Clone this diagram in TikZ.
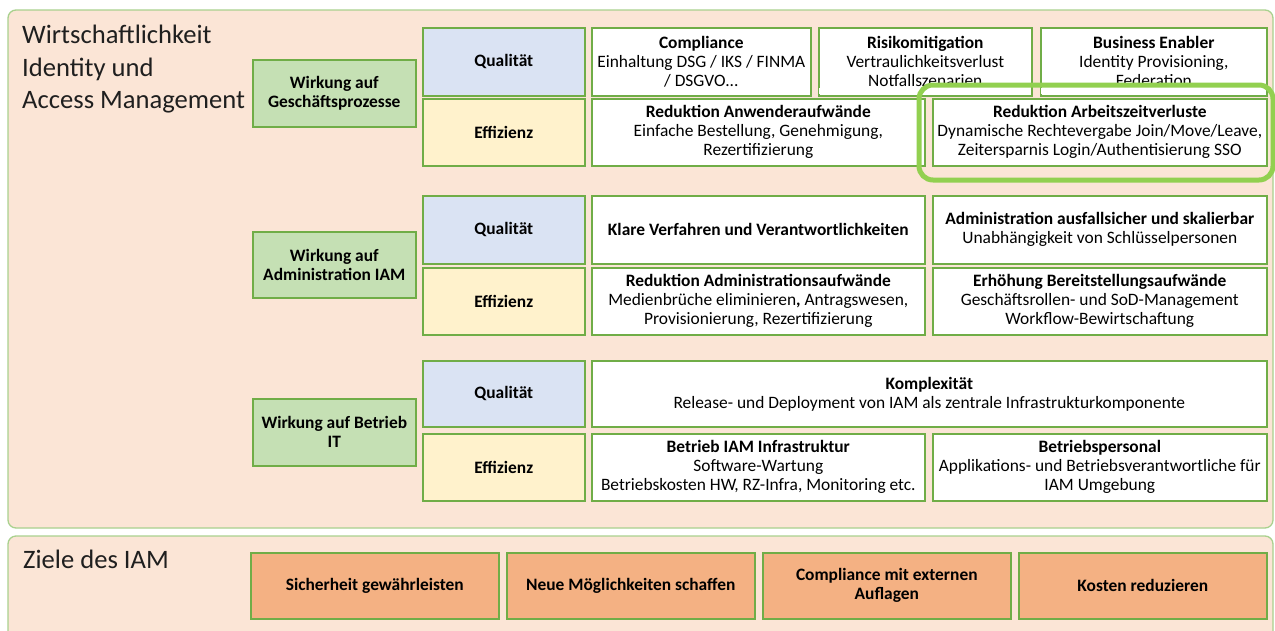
\documentclass[tikz,border=0pt]{standalone}
\usepackage{fontspec}
\setmainfont{Carlito}
\usepackage{xcolor}
\definecolor{panelfill}{HTML}{FBE5D6}
\definecolor{panelline}{HTML}{A9D18E}
\definecolor{cellline}{HTML}{70AD47}
\definecolor{qualfill}{HTML}{DAE3F3}
\definecolor{efffill}{HTML}{FFF2CC}
\definecolor{wirkfill}{HTML}{C5E0B4}
\definecolor{zielfill}{HTML}{F4B183}
\definecolor{ringgreen}{HTML}{92D050}
\tikzset{
  panel/.style={fill=panelfill, draw=panelline, line width=1.3pt, rounded corners=8pt},
  cell/.style={draw=cellline, line width=1.6pt, anchor=north west, align=center, inner sep=0pt,
    font=\fontsize{17.4}{19}\selectfont},
  qual/.style={cell, fill=qualfill, font=\bfseries\fontsize{17.4}{19}\selectfont},
  eff/.style={cell, fill=efffill, font=\bfseries\fontsize{17.4}{19}\selectfont},
  wirk/.style={cell, fill=wirkfill, font=\bfseries\fontsize{17.4}{19}\selectfont},
  info/.style={cell, fill=white},
  ziel/.style={cell, fill=zielfill, font=\bfseries\fontsize{17.4}{19}\selectfont},
  heading/.style={anchor=north west, align=left, inner sep=0pt, text=black!88,
    font=\fontsize{26.6}{32.5}\selectfont},
}

\begin{document}
\begin{tikzpicture}[x=1pt, y=-1pt]
  \clip (0,0) rectangle (1275,630);
  \fill[white] (0,0) rectangle (1275,630);
  % the two background panels
  \draw[panel] (8,10) rectangle (1273,528);
  \draw[panel] (8,536) rectangle (1273,660);

  \node[heading] (title) at (22,25) {Wirtschaftlichkeit\\Identity und\\Access Management};
  \node[heading] (ziele) at (23,550) {Ziele des IAM};

  % Wirkung auf Geschaeftsprozesse
  \node[wirk, minimum width=163pt, minimum height=67pt] (w1) at (252,59) {Wirkung auf\\Geschäftsprozesse};
  \node[qual, minimum width=162pt, minimum height=68pt] (q1) at (422,27) {Qualität};
  \node[eff, minimum width=162pt, minimum height=67pt] (e1) at (422,98) {Effizienz};
  \node[info, minimum width=219pt, minimum height=68pt] (comp) at (591,27)
    {\textbf{Compliance}\\Einhaltung DSG / IKS / FINMA\\/ DSGVO...};
  \node[info, minimum width=213pt, minimum height=68pt] (risk) at (818,27)
    {\textbf{Risikomitigation}\\Vertraulichkeitsverlust\\Notfallszenarien};
  \node[info, minimum width=226pt, minimum height=68pt] (enab) at (1040,27)
    {\textbf{Business Enabler}\\Identity Provisioning,\\Federation};
  % text of these two boxes is cut off at the bottom
  \fill[white] (819,87.5) rectangle (1030,94.2);
  \fill[white] (1041,87.5) rectangle (1265,94.2);
  \node[info, minimum width=333pt, minimum height=67pt] (anw) at (591,98)
    {\textbf{Reduktion Anwenderaufwände}\\Einfache Bestellung, Genehmigung,\\Rezertifizierung};
  \node[info, minimum width=334pt, minimum height=67pt] (azv) at (932,98)
    {\textbf{Reduktion Arbeitszeitverluste}\\Dynamische Rechtevergabe Join/Move/Leave,\\Zeitersparnis Login/Authentisierung SSO};
  \draw[ringgreen, line width=5pt, rounded corners=14pt] (919,85) rectangle (1273,180);

  % Wirkung auf Administration IAM
  \node[wirk, minimum width=163pt, minimum height=66pt] (w2) at (252,231) {Wirkung auf\\Administration IAM};
  \node[qual, minimum width=162pt, minimum height=68pt] (q2) at (422,195) {Qualität};
  \node[eff, minimum width=162pt, minimum height=67pt] (e2) at (422,267) {Effizienz};
  \node[info, minimum width=333pt, minimum height=68pt] (klar) at (591,195)
    {\textbf{Klare Verfahren und Verantwortlichkeiten}};
  \node[info, minimum width=334pt, minimum height=68pt] (ausf) at (932,195)
    {\textbf{Administration ausfallsicher und skalierbar}\\Unabhängigkeit von Schlüsselpersonen};
  \node[info, minimum width=333pt, minimum height=67pt] (radm) at (591,267)
    {\textbf{Reduktion Administrationsaufwände}\\Medienbrüche eliminieren{\bfseries,} Antragswesen,\\Provisionierung, Rezertifizierung};
  \node[info, minimum width=334pt, minimum height=67pt] (erh) at (932,267)
    {\textbf{Erhöhung Bereitstellungsaufwände}\\Geschäftsrollen- und SoD-Management\\Workflow-Bewirtschaftung};

  % Wirkung auf Betrieb IT
  \node[wirk, minimum width=163pt, minimum height=67pt] (w3) at (252,398) {Wirkung auf Betrieb\\IT};
  \node[qual, minimum width=162pt, minimum height=66pt] (q3) at (422,360) {Qualität};
  \node[eff, minimum width=162pt, minimum height=67pt] (e3) at (422,433) {Effizienz};
  \node[info, minimum width=675pt, minimum height=66pt] (kompl) at (591,360)
    {\textbf{Komplexität}\\Release- und Deployment von IAM als zentrale Infrastrukturkomponente};
  \node[info, minimum width=333pt, minimum height=67pt] (biam) at (591,433)
    {\textbf{Betrieb IAM Infrastruktur}\\Software-Wartung\\Betriebskosten HW, RZ-Infra, Monitoring etc.};
  \node[info, minimum width=334pt, minimum height=67pt] (bpers) at (932,433)
    {\textbf{Betriebspersonal}\\Applikations- und Betriebsverantwortliche für\\IAM Umgebung};

  % Ziele
  \node[ziel, minimum width=248pt, minimum height=66pt] (z1) at (250,552) {Sicherheit gewährleisten};
  \node[ziel, minimum width=248pt, minimum height=66pt] (z2) at (506,552) {Neue Möglichkeiten schaffen};
  \node[ziel, minimum width=248pt, minimum height=66pt] (z3) at (762,552) {Compliance mit externen\\Auflagen};
  \node[ziel, minimum width=248pt, minimum height=66pt] (z4) at (1018,552) {Kosten reduzieren};
\end{tikzpicture}
\end{document}
